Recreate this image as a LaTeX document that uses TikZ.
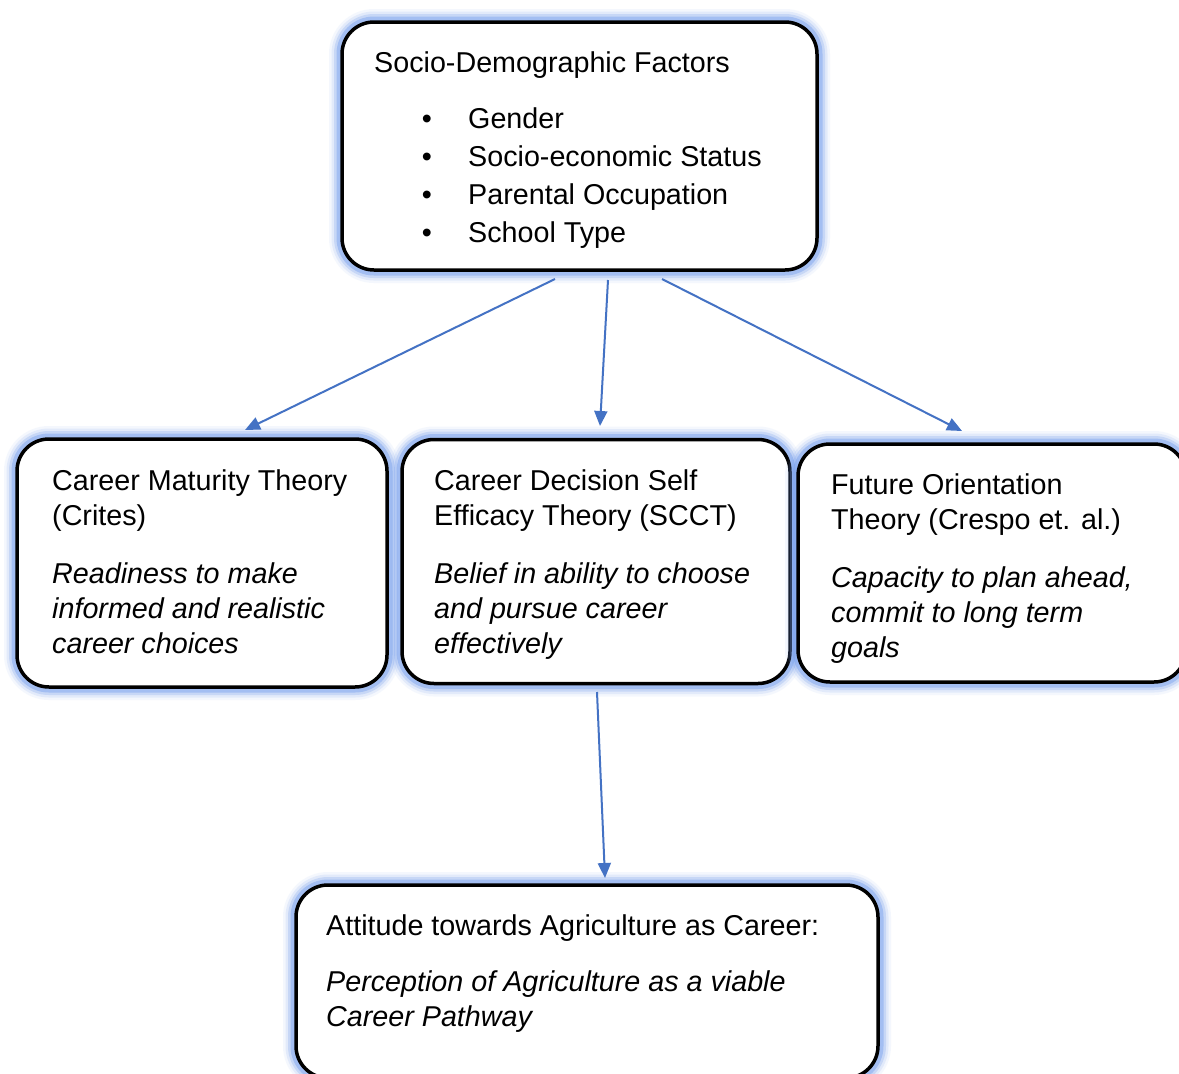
\documentclass[tikz,border=0pt]{standalone}
\usepackage{fontspec}
\setmainfont{Liberation Sans}
\usetikzlibrary{arrows.meta}
\definecolor{arrowc}{HTML}{4472C4}
\definecolor{glowc}{RGB}{120,160,238}
\tikzset{
  box/.style={rectangle, draw=black, line width=3.5pt, fill=white, rounded corners=32pt, inner sep=0pt,
    preaction={draw=glowc, line width=26pt, draw opacity=0.08},
    preaction={draw=glowc, line width=21pt, draw opacity=0.14},
    preaction={draw=glowc, line width=16pt, draw opacity=0.25},
    preaction={draw=glowc, line width=11pt, draw opacity=0.45}},
  txt/.style={anchor=base west, inner sep=0pt, font=\fontsize{28.7pt}{35pt}\selectfont},
  itxt/.style={txt, font=\fontsize{28.7pt}{35pt}\selectfont\itshape},
  conn/.style={draw=arrowc, line width=2pt, -{Triangle[length=15pt,width=13pt]}}
}
\begin{document}
\begin{tikzpicture}[x=1pt,y=-1pt]
\useasboundingbox (0,0) rectangle (1179,1074);
\clip (0,0) rectangle (1179,1074);
\fill[white] (0,0) rectangle (1179,1074);

% boxes
\node[box, minimum width=475pt, minimum height=248pt] (top) at (579.5,146) {};
\node[box, minimum width=370pt, minimum height=248pt] (left) at (202,563) {};
\node[box, minimum width=388pt, minimum height=244pt] (mid) at (596,561.5) {};
\node[box, minimum width=388pt, minimum height=238pt] (right) at (992,563) {};
\node[box, minimum width=582pt, minimum height=193pt] (bot) at (587,981.5) {};

% top text
\node[txt] (toptitle) at (374,72) {Socio-Demographic Factors};
\node[txt, anchor=base] (b1) at (427,128) {•};
\node[txt, anchor=base] (b2) at (427,166) {•};
\node[txt, anchor=base] (b3) at (427,204) {•};
\node[txt, anchor=base] (b4) at (427,242) {•};
\node[txt] (i1) at (468,128) {Gender};
\node[txt] (i2) at (468,166) {Socio-economic Status};
\node[txt] (i3) at (468,204) {Parental Occupation};
\node[txt] (i4) at (468,242) {School Type};

% left
\node[txt] (lt1) at (52,490) {Career Maturity Theory};
\node[txt] (lt2) at (52,525) {(Crites)};
\node[itxt] (ld1) at (52,583) {Readiness to make};
\node[itxt] (ld2) at (52,618) {informed and realistic};
\node[itxt] (ld3) at (52,653) {career choices};
% middle
\node[txt] (mt1) at (434,490) {Career Decision Self};
\node[txt] (mt2) at (434,525) {Efficacy Theory (SCCT)};
\node[itxt] (md1) at (434,583) {Belief in ability to choose};
\node[itxt] (md2) at (434,618) {and pursue career};
\node[itxt] (md3) at (434,653) {effectively};
% right
\node[txt] (rt1) at (831,494) {Future Orientation};
\node[txt] (rt2) at (831,529) {Theory (Crespo et. al.)};
\node[itxt] (rd1) at (831,587) {Capacity to plan ahead,};
\node[itxt] (rd2) at (831,622) {commit to long term};
\node[itxt] (rd3) at (831,657) {goals};
% bottom
\node[txt] (bt) at (326,935) {Attitude towards Agriculture as Career:};
\node[itxt] (bd1) at (326,991) {Perception of Agriculture as a viable};
\node[itxt] (bd2) at (326,1026) {Career Pathway};

% connector ends
\coordinate (s1) at (555,279);
\coordinate (e1) at (245,430);
\coordinate (s2) at (608,280);
\coordinate (e2) at (600,426);
\coordinate (s3) at (662,279);
\coordinate (e3) at (962,431);
\coordinate (s4) at (597,692);
\coordinate (e4) at (605,878);

\draw[conn] (s1) -- (e1);
\draw[conn] (s2) -- (e2);
\draw[conn] (s3) -- (e3);
\draw[conn] (s4) -- (e4);
\end{tikzpicture}
\end{document}
